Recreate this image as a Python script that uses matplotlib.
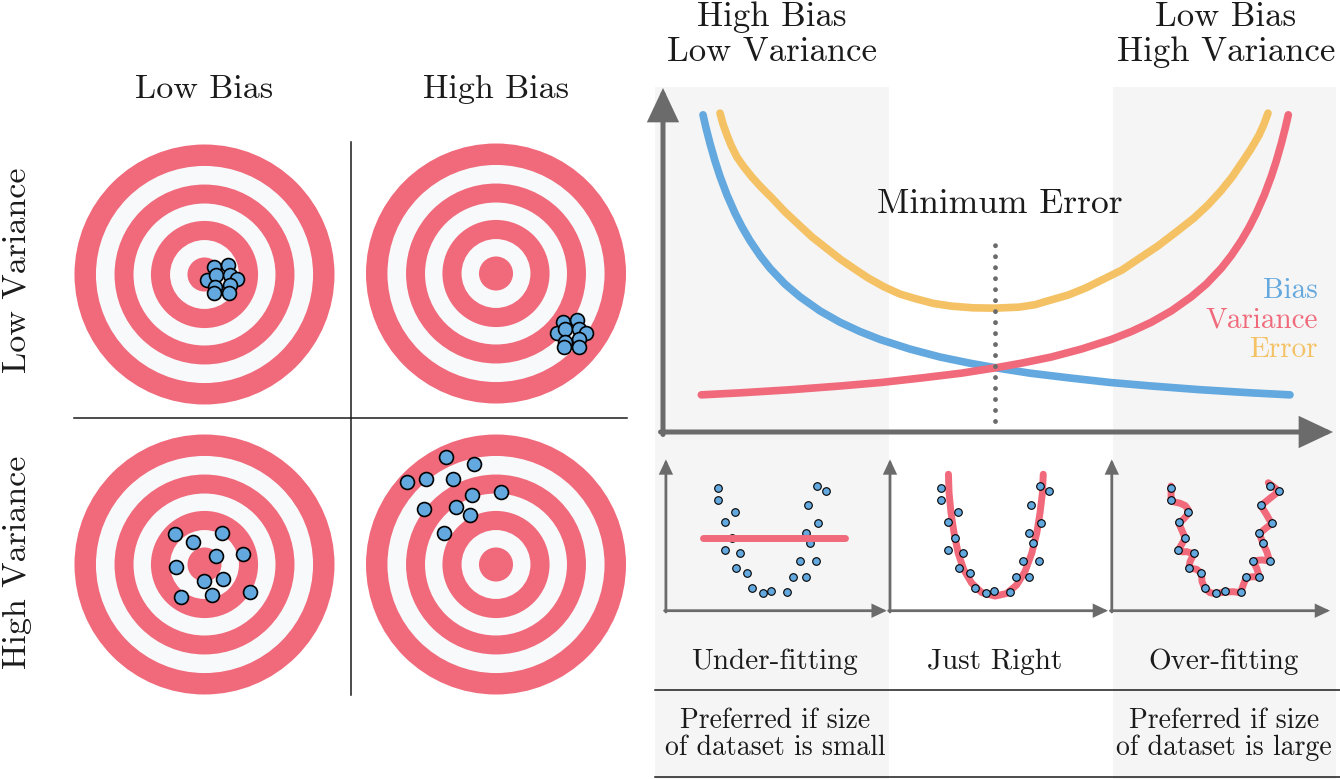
import matplotlib.pyplot as plt
from matplotlib.patches import Circle, Rectangle

plt.rcParams['font.family'] = ['cmr10', 'DejaVu Serif']

W, H = 1340, 779

# ---------------- data ----------------
# bullseye rings, outer radius = 1
ring_radii = [1.0, 0.835, 0.692, 0.546, 0.412, 0.265, 0.131]

# dart hits per target (x right, y up, in target radii)
hits_lowbias_lowvar_x = [0.073, 0.183, 0.017, 0.088, 0.196, 0.248, 0.081, 0.196, 0.073, 0.188]
hits_lowbias_lowvar_y = [0.060, 0.073, -0.042, -0.004, -0.004, -0.035, -0.094, -0.081, -0.142, -0.142]
hits_highbias_lowvar_x = [0.513, 0.625, 0.472, 0.531, 0.636, 0.690, 0.531, 0.636, 0.523, 0.636]
hits_highbias_lowvar_y = [-0.371, -0.358, -0.460, -0.429, -0.429, -0.455, -0.525, -0.506, -0.563, -0.563]
hits_lowbias_highvar_x = [-0.227, -0.086, 0.137, 0.088, 0.294, -0.222, -0.004, 0.145, -0.181, 0.060, 0.350]
hits_lowbias_highvar_y = [0.232, 0.175, 0.245, 0.068, 0.081, -0.022, -0.127, -0.112, -0.248, -0.235, -0.209]
hits_highbias_highvar_x = [-0.385, -0.167, -0.687, -0.541, -0.333, -0.187, 0.036, -0.552, -0.310, -0.200, -0.398]
hits_highbias_highvar_y = [0.829, 0.773, 0.637, 0.658, 0.655, 0.535, 0.560, 0.425, 0.442, 0.381, 0.245]

col_labels = ["Low Bias", "High Bias"]
row_labels = ["Low Variance", "High Variance"]

# bias-variance tradeoff curves (x = model complexity, y = error)
bias_x = [0.597, 0.642, 0.701, 0.776, 0.851, 0.955, 1.075, 1.179, 1.299, 1.448, 1.597, 1.821,
          2.045, 2.343, 2.642, 2.940, 3.239, 3.687, 4.134, 4.582, 4.955, 5.478, 6.075, 6.672,
          7.269, 8.015, 8.761, 9.358]
bias_y = [9.22, 8.84, 8.39, 7.88, 7.43, 6.89, 6.36, 5.96, 5.56, 5.13, 4.76, 4.30,
          3.93, 3.52, 3.19, 2.92, 2.69, 2.41, 2.18, 2.00, 1.87, 1.71, 1.57, 1.44,
          1.34, 1.23, 1.14, 1.08]
var_x = [0.572, 1.169, 1.915, 2.661, 3.258, 3.855, 4.452, 4.975, 5.348, 5.796, 6.243, 6.691,
         6.990, 7.288, 7.587, 7.885, 8.109, 8.333, 8.482, 8.631, 8.751, 8.855, 8.975, 9.079,
         9.154, 9.229, 9.288, 9.333]
var_y = [1.08, 1.14, 1.23, 1.34, 1.44, 1.57, 1.71, 1.87, 2.00, 2.18, 2.41, 2.69,
         2.92, 3.19, 3.52, 3.93, 4.30, 4.76, 5.13, 5.56, 5.96, 6.36, 6.89, 7.43,
         7.88, 8.39, 8.84, 9.22]
err_x = [0.851, 0.896, 0.955, 1.015, 1.104, 1.209, 1.328, 1.463, 1.627, 1.821, 2.030, 2.224,
         2.433, 2.642, 2.836, 3.060, 3.299, 3.537, 3.761, 4.030, 4.299, 4.627, 4.955, 5.313,
         5.552, 5.776, 6.045, 6.313, 6.582, 6.851, 7.119, 7.388, 7.657, 7.925, 8.134, 8.328,
         8.493, 8.657, 8.776, 8.896, 8.970, 9.030]
err_y = [9.27, 8.95, 8.63, 8.34, 7.99, 7.70, 7.41, 7.12, 6.80, 6.40, 6.02, 5.67,
         5.35, 5.03, 4.77, 4.48, 4.22, 4.01, 3.88, 3.74, 3.66, 3.61, 3.60, 3.63,
         3.70, 3.83, 3.98, 4.19, 4.45, 4.71, 5.06, 5.41, 5.81, 6.22, 6.60, 7.01,
         7.41, 7.88, 8.23, 8.63, 8.95, 9.27]
min_error_x = 4.96
min_error_top = 5.49

# sample data shown in the three small fits
sample_x = [2.33, 2.33, 3.11, 2.67, 2.98, 2.65, 3.36, 3.15, 3.68, 3.89, 4.39, 4.78,
            5.52, 5.77, 6.38, 6.09, 6.85, 6.55, 6.36, 6.94, 6.45, 6.88, 7.28]
sample_y = [5.64, 5.06, 4.53, 4.06, 3.35, 2.78, 2.63, 1.97, 1.73, 1.06, 0.80, 0.89,
            0.84, 1.56, 1.56, 2.29, 2.29, 3.09, 3.58, 4.01, 4.83, 5.73, 5.49]

under_x = [1.64, 8.17]
under_y = [3.32, 3.32]
right_x = [2.68, 2.71, 2.80, 2.94, 3.13, 3.39, 3.75, 4.21, 4.82, 5.35, 5.81, 6.19,
           6.50, 6.73, 6.88, 6.99, 7.03]
right_y = [6.26, 5.39, 4.47, 3.55, 2.63, 1.87, 1.26, 0.83, 0.67, 0.79, 1.18, 1.79,
           2.63, 3.55, 4.47, 5.39, 6.26]
over_x = [2.33, 2.33, 2.50, 2.74, 2.98, 3.12, 3.07, 2.88, 2.68, 2.82, 2.98, 2.86, 2.65,
          2.86, 3.05, 3.37, 3.20, 3.15, 3.50, 3.72, 3.75, 3.87, 4.11, 4.38, 4.79, 5.18,
          5.52, 5.64, 5.78, 6.10, 6.39, 6.26, 6.09, 6.49, 6.85, 6.72, 6.55, 6.38, 6.67,
          6.94, 6.72, 6.45, 6.87, 7.28, 7.02, 6.79]
over_y = [5.72, 5.05, 4.98, 4.93, 4.82, 4.63, 4.39, 4.18, 4.02, 3.70, 3.32, 3.12, 2.75,
          2.70, 2.71, 2.60, 2.25, 1.96, 1.90, 1.72, 1.33, 1.04, 0.83, 0.78, 0.86, 0.87,
          0.83, 1.18, 1.53, 1.56, 1.53, 1.94, 2.28, 2.33, 2.28, 2.71, 3.07, 3.53, 3.78,
          3.99, 4.39, 4.82, 5.16, 5.48, 5.69, 5.87]

fit_names = ["Under-fitting", "Just Right", "Over-fitting"]
small_note = ["Preferred if size", "of dataset is small"]
large_note = ["Preferred if size", "of dataset is large"]

# ---------------- style ----------------
RED = '#f06a7b'
WHITE = '#f8f9fb'
BLUE = '#63a8de'
YELLOW = '#f4c264'
GRAY = '#6b6b6b'
SHADE = '#f5f5f5'
INK = '#1b1b1b'

fig = plt.figure(figsize=(W / 100, H / 100), dpi=100)


def px_axes(x0, y0, x1, y1, xlim, ylim):
    ax = fig.add_axes([x0 / W, 1 - y1 / H, (x1 - x0) / W, (y1 - y0) / H])
    ax.set_xlim(*xlim)
    ax.set_ylim(*ylim)
    ax.axis('off')
    return ax


def arrow(ax, x0, y0, x1, y1, lw, scale):
    ax.annotate('', xy=(x1, y1), xytext=(x0, y0),
                arrowprops=dict(arrowstyle='-|>,head_length=0.85,head_width=0.4',
                                mutation_scale=scale, color=GRAY, lw=lw,
                                shrinkA=0, shrinkB=0, joinstyle='miter'),
                annotation_clip=False)


# background layer in pixel coordinates
bg = px_axes(0, 0, W, H, (0, W), (H, 0))
bg.add_patch(Rectangle((655, 87), 234, 692, color=SHADE, lw=0))
bg.add_patch(Rectangle((1113, 87), 223, 692, color=SHADE, lw=0))

# ---------------- left: bullseyes ----------------
R = 130
centers = [(204.5, 274.5), (496, 273.5), (204.5, 564.5), (496, 564.5)]
hits = [(hits_lowbias_lowvar_x, hits_lowbias_lowvar_y),
        (hits_highbias_lowvar_x, hits_highbias_lowvar_y),
        (hits_lowbias_highvar_x, hits_lowbias_highvar_y),
        (hits_highbias_highvar_x, hits_highbias_highvar_y)]
for (cx, cy), (hx, hy) in zip(centers, hits):
    ax = px_axes(cx - 1.1 * R, cy - 1.1 * R, cx + 1.1 * R, cy + 1.1 * R, (-1.1, 1.1), (-1.1, 1.1))
    for i, r in enumerate(ring_radii):
        ax.add_patch(Circle((0, 0), r, color=RED if i % 2 == 0 else WHITE, lw=0))
    ax.scatter(hx, hy, s=100, c=BLUE, edgecolors='black', linewidths=1.2, zorder=3, clip_on=False)

bg.plot([350.7, 350.7], [142, 695], color=INK, lw=1.1)
bg.plot([74, 627], [418.3, 418.3], color=INK, lw=1.1)
for x, lab in zip([204.5, 496], col_labels):
    bg.text(x, 89, lab, ha='center', va='center', fontsize=24.5, color=INK)
for y, lab in zip([270, 562], row_labels):
    bg.text(17, y, lab, ha='center', va='center', rotation=90, fontsize=24.5, color=INK)

# ---------------- right: tradeoff curve ----------------
bg.text(772, 17, "High Bias", ha='center', va='center', fontsize=25, color=INK)
bg.text(772, 52, "Low Variance", ha='center', va='center', fontsize=25, color=INK)
bg.text(1226, 17, "Low Bias", ha='center', va='center', fontsize=25, color=INK)
bg.text(1226, 52, "High Variance", ha='center', va='center', fontsize=25, color=INK)

main = px_axes(663, 88, 1333, 432, (0, 10), (0, 10))
arrow(main, -0.037, 0, 10, 0, 3.6, 22)
arrow(main, 0, -0.073, 0, 10, 3.6, 22)
curve_style = dict(lw=5.5, solid_capstyle='round', solid_joinstyle='round', clip_on=False)
main.plot(bias_x, bias_y, color=BLUE, **curve_style)
main.plot(var_x, var_y, color=RED, **curve_style)
main.plot(err_x, err_y, color=YELLOW, **curve_style)
main.plot([min_error_x, min_error_x], [0, min_error_top], color=GRAY, lw=3.5,
          linestyle=(0, (0.01, 2.25)), dash_capstyle='round', zorder=4)
bg.text(1000, 204, "Minimum Error", ha='center', va='center', fontsize=25.5, color=INK)
for y, lab, c in zip([291, 320, 350], ["Bias", "Variance", "Error"], [BLUE, RED, YELLOW]):
    bg.text(1318, y, lab, ha='right', va='center', fontsize=21, color=c)

# ---------------- right: three small fits ----------------
PX = 21.8
ref_x = [667, 890, 1120.3]
axis_x = [-0.05, 0.0, -0.39]
axis_end = [10.08, 10.0, 9.62]
fits = [(under_x, under_y), (right_x, right_y), (over_x, over_y)]
for k, (rx, (fx, fy)) in enumerate(zip(ref_x, fits)):
    ax = px_axes(rx - PX, 610.7 - 7.5 * PX, rx + 10.5 * PX, 610.7 + 0.5 * PX, (-1, 10.5), (-0.5, 7.5))
    arrow(ax, axis_x[k] - 0.06, 0, axis_end[k], 0, 2.0, 9)
    arrow(ax, axis_x[k], -0.06, axis_x[k], 6.94, 2.0, 9)
    line_z = 4 if k == 0 else 2
    ax.plot(fx, fy, color=RED, lw=5, solid_capstyle='round', solid_joinstyle='round',
            zorder=line_z, clip_on=False)
    ax.scatter(sample_x, sample_y, s=30, c=BLUE, edgecolors='black', linewidths=0.8,
               zorder=3, clip_on=False)

# ---------------- table below ----------------
for x, lab in zip([775, 995, 1224], fit_names):
    bg.text(x, 662, lab, ha='center', va='center', fontsize=21, color=INK)
bg.plot([655, 1340], [690, 690], color=INK, lw=1.1)
bg.plot([655, 1340], [777, 777], color=INK, lw=1.1)
for x, lines in zip([775, 1224], [small_note, large_note]):
    bg.text(x, 721, lines[0], ha='center', va='center', fontsize=20, color=INK)
    bg.text(x, 748, lines[1], ha='center', va='center', fontsize=20, color=INK)

fig.savefig("out.png", dpi=100)
